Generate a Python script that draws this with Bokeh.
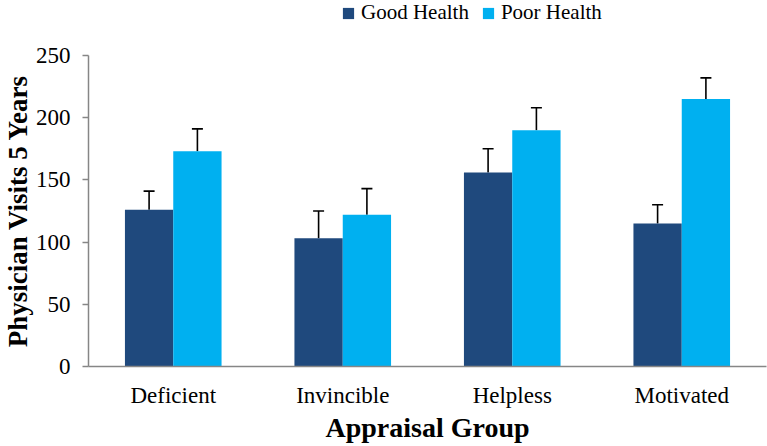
from bokeh.plotting import figure
from bokeh.models import ColumnDataSource, FactorRange, Range1d, Whisker, TeeHead, Legend, LegendItem, Title
from bokeh.transform import dodge
from bokeh.embed import file_html
from bokeh.resources import INLINE

categories = ["Deficient", "Invincible", "Helpless", "Motivated"]
series = ["Good Health", "Poor Health"]
good_health = [126, 103, 156, 115]
good_err = [15, 22, 19, 15]
poor_health = [173, 122, 190, 215]
poor_err = [18, 21, 18, 17]
y_ticks = [0, 50, 100, 150, 200, 250]
y_max = 250

DARK = "#1F497D"
LIGHT = "#00B0F0"
AXIS = "#868686"
FONT = "Liberation Serif"

FRAME_H = 366          # frame reaches the top of the canvas; 0..250 occupies the lower 311 px
AXIS_H = 311

src = ColumnDataSource(dict(
    cat=categories,
    good=good_health,
    good_up=[v + e for v, e in zip(good_health, good_err)],
    poor=poor_health,
    poor_up=[v + e for v, e in zip(poor_health, poor_err)],
))

p = figure(
    x_range=FactorRange(factors=categories),
    y_range=Range1d(0, y_max * FRAME_H / AXIS_H),
    width=767, height=446,
    output_backend="svg", toolbar_location=None,
    min_border_left=86, min_border_right=1, min_border_top=0, min_border_bottom=80,
)
p.outline_line_color = None
p.xgrid.grid_line_color = None
p.ygrid.grid_line_color = None

off = 0.1425
w = 0.285
r1 = p.vbar(x=dodge("cat", -off, range=p.x_range), top="good", width=w, source=src,
            fill_color=DARK, line_color=None)
r2 = p.vbar(x=dodge("cat", off, range=p.x_range), top="poor", width=w, source=src,
            fill_color=LIGHT, line_color=None)

for base, up, o in (("good", "good_up", -off), ("poor", "poor_up", off)):
    wk = Whisker(base=dodge("cat", o, range=p.x_range), lower=base, upper=up, source=src,
                 line_color="black", line_width=1.6,
                 lower_head=None,
                 upper_head=TeeHead(size=11, line_color="black", line_width=1.6))
    p.add_layout(wk)

# axes
p.yaxis.ticker = y_ticks
p.yaxis.bounds = (0, y_max)
p.yaxis.axis_line_color = AXIS
p.yaxis.axis_line_width = 1.5
p.yaxis.major_tick_line_color = AXIS
p.yaxis.major_tick_line_width = 1.5
p.yaxis.major_tick_out = 6
p.yaxis.major_tick_in = 0
p.yaxis.minor_tick_line_color = None
p.yaxis.major_label_standoff = 12
p.yaxis.major_label_text_font = FONT
p.yaxis.major_label_text_font_size = "23px"
p.yaxis.major_label_text_color = "black"

ytitle = Title(text="Physician Visits 5 Years", align="right", offset=74,
               text_font=FONT, text_font_style="bold", text_font_size="27px",
               text_color="black", standoff=0)
p.add_layout(ytitle, "left")

p.xaxis.axis_line_color = AXIS
p.xaxis.axis_line_width = 1.5
p.xaxis.major_tick_line_color = None
p.xaxis.minor_tick_line_color = None
p.xaxis.major_label_standoff = 10
p.xaxis.major_label_text_font = FONT
p.xaxis.major_label_text_font_size = "23px"
p.xaxis.major_label_text_color = "black"
p.xaxis.axis_label = "Appraisal Group"
p.xaxis.axis_label_text_font = FONT
p.xaxis.axis_label_text_font_style = "bold"
p.xaxis.axis_label_text_font_size = "28px"
p.xaxis.axis_label_text_color = "black"
p.xaxis.axis_label_standoff = 1

legend = Legend(
    items=[LegendItem(label=series[0], renderers=[r1]), LegendItem(label=series[1], renderers=[r2])],
    orientation="horizontal",
    location=(253, FRAME_H - 25),
    label_text_font=FONT, label_text_font_size="21px", label_text_color="black",
    glyph_width=14, glyph_height=14, label_standoff=6, spacing=12,
    border_line_color=None, background_fill_alpha=0, padding=2, margin=0,
    label_height=21,
)
p.add_layout(legend, "center")

open("out.html", "w").write(file_html(p, INLINE))
